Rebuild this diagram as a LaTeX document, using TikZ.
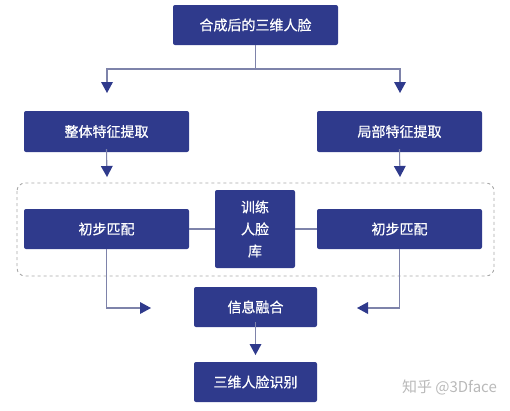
\documentclass[tikz,border=0pt]{standalone}
\usepackage{fontspec}
\newfontfamily\cjk[FakeBold=0.6]{Noto Sans CJK SC}
\newfontfamily\cjkw{Noto Sans CJK SC}
\usetikzlibrary{arrows.meta}
\definecolor{navy}{HTML}{2F3A8C}
\definecolor{lin}{HTML}{7E83AA}
\definecolor{dashgray}{HTML}{A8A8A8}
\tikzset{
  box/.style={fill=navy, draw=none, rounded corners=2pt, text=white, font=\cjk\fontsize{14}{22}\selectfont, inner sep=0pt},
  conn/.style={draw=lin, line width=1.1pt},
  arr/.style={conn, -{Triangle[length=11pt,width=12pt,color=navy,line width=0pt]}},
}
\begin{document}
\begin{tikzpicture}[x=1pt,y=-1pt]
\useasboundingbox (0,0) rectangle (510,410);
\draw[draw=dashgray, dashed, line width=0.9pt, rounded corners=8pt] (17,183) rectangle (494,276);
\node[box, minimum width=165pt, minimum height=40pt] (top) at (255.5,25) {合成后的三维人脸};
\node[box, minimum width=165pt, minimum height=41pt] (gl) at (106.5,131.5) {整体特征提取};
\node[box, minimum width=165pt, minimum height=41pt] (lo) at (399.5,131.5) {局部特征提取};
\node[box, minimum width=165pt, minimum height=40pt] (m1) at (106.5,229) {初步匹配};
\node[box, minimum width=165pt, minimum height=40pt] (m2) at (399.5,229) {初步匹配};
\node[box, minimum width=80pt, minimum height=78pt, align=center] (db) at (255,229) {训练\\人脸\\库};
\node[box, minimum width=123pt, minimum height=40pt] (fu) at (255.5,307) {信息融合};
\node[box, minimum width=123pt, minimum height=40pt] (rec) at (255.5,382) {三维人脸识别};
\node[text=gray!55, font=\cjkw\fontsize{15}{17}\selectfont, anchor=east, inner sep=0pt] (wm) at (497,387) {知乎 @3Dface};
\coordinate (b) at (255.5,69);
\coordinate (la) at (107,93);
\coordinate (ra) at (400,93);
\coordinate (lb) at (107,177);
\coordinate (rb) at (400,177);
\coordinate (lf) at (151,308);
\coordinate (rf) at (357,308);
\coordinate (ff) at (255.5,355);
\draw[conn] (top.south) -- (b);
\draw[arr] (b) -| (la);
\draw[arr] (b) -| (ra);
\draw[arr] ([yshift=3pt]gl.south) -- (lb);
\draw[arr] ([yshift=3pt]lo.south) -- (rb);
\draw[conn] (m1.east) -- (m1.east -| db.west);
\draw[conn] (m2.west) -- (m2.west -| db.east);
\draw[arr] (m1.south) |- (lf);
\draw[arr] (m2.south) |- (rf);
\draw[arr] ([yshift=5pt]fu.south) -- (ff);
\end{tikzpicture}
\end{document}
